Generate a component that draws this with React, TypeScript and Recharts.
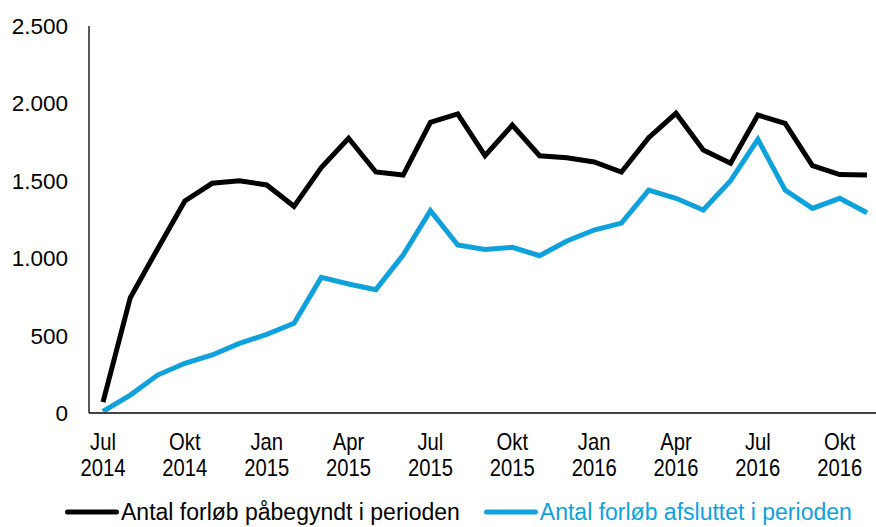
import { CartesianGrid, Legend, Line, LineChart, XAxis, YAxis } from "recharts";

const months = [
  "Jul 2014", "Aug 2014", "Sep 2014", "Okt 2014", "Nov 2014", "Dec 2014",
  "Jan 2015", "Feb 2015", "Mar 2015", "Apr 2015", "Maj 2015", "Jun 2015",
  "Jul 2015", "Aug 2015", "Sep 2015", "Okt 2015", "Nov 2015", "Dec 2015",
  "Jan 2016", "Feb 2016", "Mar 2016", "Apr 2016", "Maj 2016", "Jun 2016",
  "Jul 2016", "Aug 2016", "Sep 2016", "Okt 2016", "Nov 2016",
];

const started = [
  70, 745, 1060, 1370, 1484, 1500, 1473, 1335, 1585, 1775, 1557, 1537, 1878,
  1932, 1662, 1860, 1662, 1649, 1622, 1557, 1779, 1936, 1699, 1613, 1925,
  1871, 1598, 1540, 1537,
];

const finished = [
  10, 116, 245, 321, 375, 450, 508, 579, 876, 833, 797, 1021, 1307, 1085,
  1057, 1070, 1016, 1111, 1182, 1227, 1440, 1387, 1311, 1501, 1768, 1440,
  1322, 1387, 1294,
];

const xTicks = ["Jul 2014", "Okt 2014", "Jan 2015", "Apr 2015", "Jul 2015", "Okt 2015", "Jan 2016", "Apr 2016", "Jul 2016", "Okt 2016"];
const yTicks = [0, 500, 1000, 1500, 2000, 2500];

const seriesNames = ["Antal forløb påbegyndt i perioden", "Antal forløb afsluttet i perioden"];
const colors = ["#000000", "#0fa1dc"];

const data = months.map((m, i) => ({ month: m, started: started[i], finished: finished[i] }));

const font = "'Liberation Sans', Arial, sans-serif";

const fmt = (v: number) => String(v).replace(/\B(?=(\d{3})+(?!\d))/g, ".");

// month labels in the original are narrow, so squeeze them a bit
function MonthTick({ x, y, payload }: any) {
  const [m, yr] = String(payload.value).split(" ");
  return (
    <g transform={`translate(${x},${y}) scale(0.88,1)`}>
      <text textAnchor="middle" fontSize={23} fontFamily={font} fill="#000">
        <tspan x={0} dy={35}>{m}</tspan>
        <tspan x={0} dy={26}>{yr}</tspan>
      </text>
    </g>
  );
}

function LegendBox() {
  return (
    <div style={{ display: "flex", fontFamily: font, fontSize: 23, lineHeight: "26px", paddingLeft: 65, paddingTop: 2 }}>
      {seriesNames.map((n, i) => (
        <div key={n} style={{ display: "flex", alignItems: "center", marginRight: 24, color: colors[i], whiteSpace: "nowrap" }}>
          <svg width={54} height={10} style={{ marginRight: 2 }}>
            <line x1={2.5} y1={5} x2={51.5} y2={5} stroke={colors[i]} strokeWidth={5} strokeLinecap="round" />
          </svg>
          <span>{n}</span>
        </div>
      ))}
    </div>
  );
}

export default function App() {
  return (
    <div style={{ position: "absolute", left: 0, top: 0 }}>
      <LineChart width={876} height={527} data={data} margin={{ top: 26, right: 0, left: 0, bottom: 0 }}>
        <CartesianGrid horizontal={false} vertical={false} />
        <XAxis
          dataKey="month"
          ticks={xTicks}
          interval={0}
          tick={<MonthTick />}
          tickLine={false}
          tickSize={0}
          height={84}
          padding={{ left: 14, right: 9 }}
          axisLine={{ stroke: "#444", strokeWidth: 2 }}
        />
        <YAxis
          domain={[0, 2500]}
          ticks={yTicks}
          tickFormatter={fmt}
          width={89}
          tickLine={false}
          tickSize={0}
          tickMargin={21}
          axisLine={{ stroke: "#000", strokeWidth: 1.3 }}
          tick={{ fontSize: 22.5, fontFamily: font, fill: "#000" }}
        />
        <Legend verticalAlign="bottom" height={30} content={<LegendBox />} />
        <Line dataKey="started" name={seriesNames[0]} stroke={colors[0]} strokeWidth={5} dot={false} isAnimationActive={false} />
        <Line dataKey="finished" name={seriesNames[1]} stroke={colors[1]} strokeWidth={5} dot={false} isAnimationActive={false} />
      </LineChart>
    </div>
  );
}
